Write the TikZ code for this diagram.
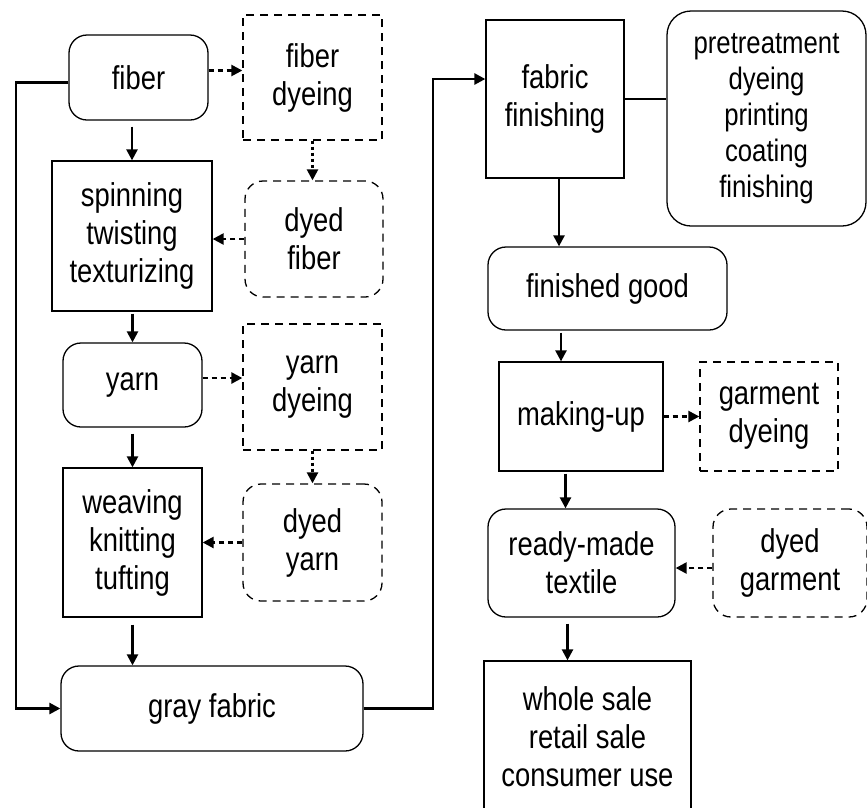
\documentclass[tikz,border=0pt]{standalone}
\usepackage{fontspec}
\setmainfont{Liberation Sans}[FakeStretch=0.83]
\usetikzlibrary{arrows.meta,calc}
\begin{document}
\begin{tikzpicture}[x=1pt,y=-1pt,
  box/.style={draw, line width=1.3pt, align=center, inner sep=0pt,
    font=\fontsize{33}{38}\selectfont},
  rbox/.style={box, rounded corners=18pt},
  dbox/.style={box, dash pattern=on 8pt off 6pt},
  drbox/.style={box, rounded corners=18pt, dash pattern=on 8pt off 6pt},
  arr/.style={line width=2.4pt, -{Triangle[length=11pt,width=11pt]}},
  darr/.style={arr, dash pattern=on 5pt off 4pt},
  varr/.style={arr, dash pattern=on 3pt off 3pt}]
\useasboundingbox (0,0) rectangle (867,807);
\clip (0,0) rectangle (867,807);
\fill[white] (0,0) rectangle (867,807);
% left column
\node[rbox, minimum width=139pt, minimum height=85pt] (fiber) at (138.5,77.5) {fiber};
\node[dbox, minimum width=139pt, minimum height=125pt] (fdye) at (312.5,77.5) {fiber\\dyeing};
\node[box, minimum width=160pt, minimum height=150pt] (spin) at (132,236) {spinning\\twisting\\texturizing};
\node[drbox, minimum width=138pt, minimum height=116pt] (dfiber) at (314,239) {dyed\\fiber};
\node[rbox, minimum width=139pt, minimum height=84pt] (yarn) at (132.5,385) {yarn};
\node[dbox, minimum width=139pt, minimum height=126pt] (ydye) at (312.5,387) {yarn\\dyeing};
\node[box, minimum width=139pt, minimum height=149pt] (weav) at (132.5,542.5) {weaving\\knitting\\tufting};
\node[drbox, minimum width=139pt, minimum height=117pt] (dyarn) at (312.5,542.5) {dyed\\yarn};
\node[rbox, minimum width=302pt, minimum height=85pt] (gray) at (212,708.5) {gray fabric};
% right column
\node[box, minimum width=138pt, minimum height=158pt] (ffin) at (555,99) {fabric\\finishing};
\node[box, rounded corners=24pt, minimum width=199pt, minimum height=215pt, font=\fontsize{31}{36}\selectfont] (pre) at (766.5,118.5) {pretreatment\\dyeing\\printing\\coating\\finishing};
\node[rbox, minimum width=239pt, minimum height=83pt] (fgood) at (607.5,288.5) {finished good};
\node[box, minimum width=164pt, minimum height=109pt] (make) at (581,416.5) {making-up};
\node[dbox, minimum width=138pt, minimum height=109pt] (gdye) at (769,416.5) {garment\\dyeing};
\node[rbox, minimum width=187pt, minimum height=108pt] (ready) at (581.5,563) {ready-made\\textile};
\node[drbox, minimum width=154pt, minimum height=108pt] (dgarm) at (790,563) {dyed\\garment};
\node[box, minimum width=207pt, minimum height=151pt] (sale) at (587.5,736.5) {whole sale\\retail sale\\consumer use};
\coordinate (bend) at (433,708);
% solid flow
\draw[arr, shorten <=6pt] (spin.north |- fiber.south) -- (spin.north);
\draw[arr, shorten <=2pt] (yarn.north |- spin.south) -- (yarn.north);
\draw[arr, shorten <=6pt] (weav.north |- yarn.south) -- (weav.north);
\draw[arr, shorten <=7pt] (weav.south) -- (weav.south |- gray.north);
\draw[arr, line width=2.6pt] ([yshift=-5pt]fiber.west) -| (16,400) |- (gray.west);
\draw[arr, line width=2.6pt] (gray.east) -- (gray.east -| bend) |- ([yshift=20pt]ffin.west);
\draw[line width=2.6pt] (ffin.east) -- (ffin.east -| pre.west);
\draw[arr] ([xshift=4pt]ffin.south) -- ([xshift=4pt]ffin.south |- fgood.north);
\draw[arr, shorten <=2pt] ([xshift=-20pt]make.north |- fgood.south) -- ([xshift=-20pt]make.north);
\draw[arr, shorten <=2pt] ([xshift=-16pt]ready.north |- make.south) -- ([xshift=-16pt]ready.north);
\draw[arr, shorten <=6pt] ([xshift=-20pt]sale.north |- ready.south) -- ([xshift=-20pt]sale.north);
% dyeing branches
\draw[darr] ([yshift=7pt]fiber.east) -- ([yshift=7pt]fiber.east -| fdye.west);
\draw[varr] (fdye.south) -- (fdye.south |- dfiber.north);
\draw[darr] (dfiber.west) -- (dfiber.west -| spin.east);
\draw[darr] ([yshift=7pt]yarn.east) -- ([yshift=7pt]yarn.east -| ydye.west);
\draw[varr] (ydye.south) -- (ydye.south |- dyarn.north);
\draw[darr] (dyarn.west) -- (dyarn.west -| weav.east);
\draw[darr] (make.east) -- (make.east -| gdye.west);
\draw[darr] ([yshift=-5pt]dgarm.west) -- ([yshift=-5pt]dgarm.west -| ready.east);
\end{tikzpicture}
\end{document}
